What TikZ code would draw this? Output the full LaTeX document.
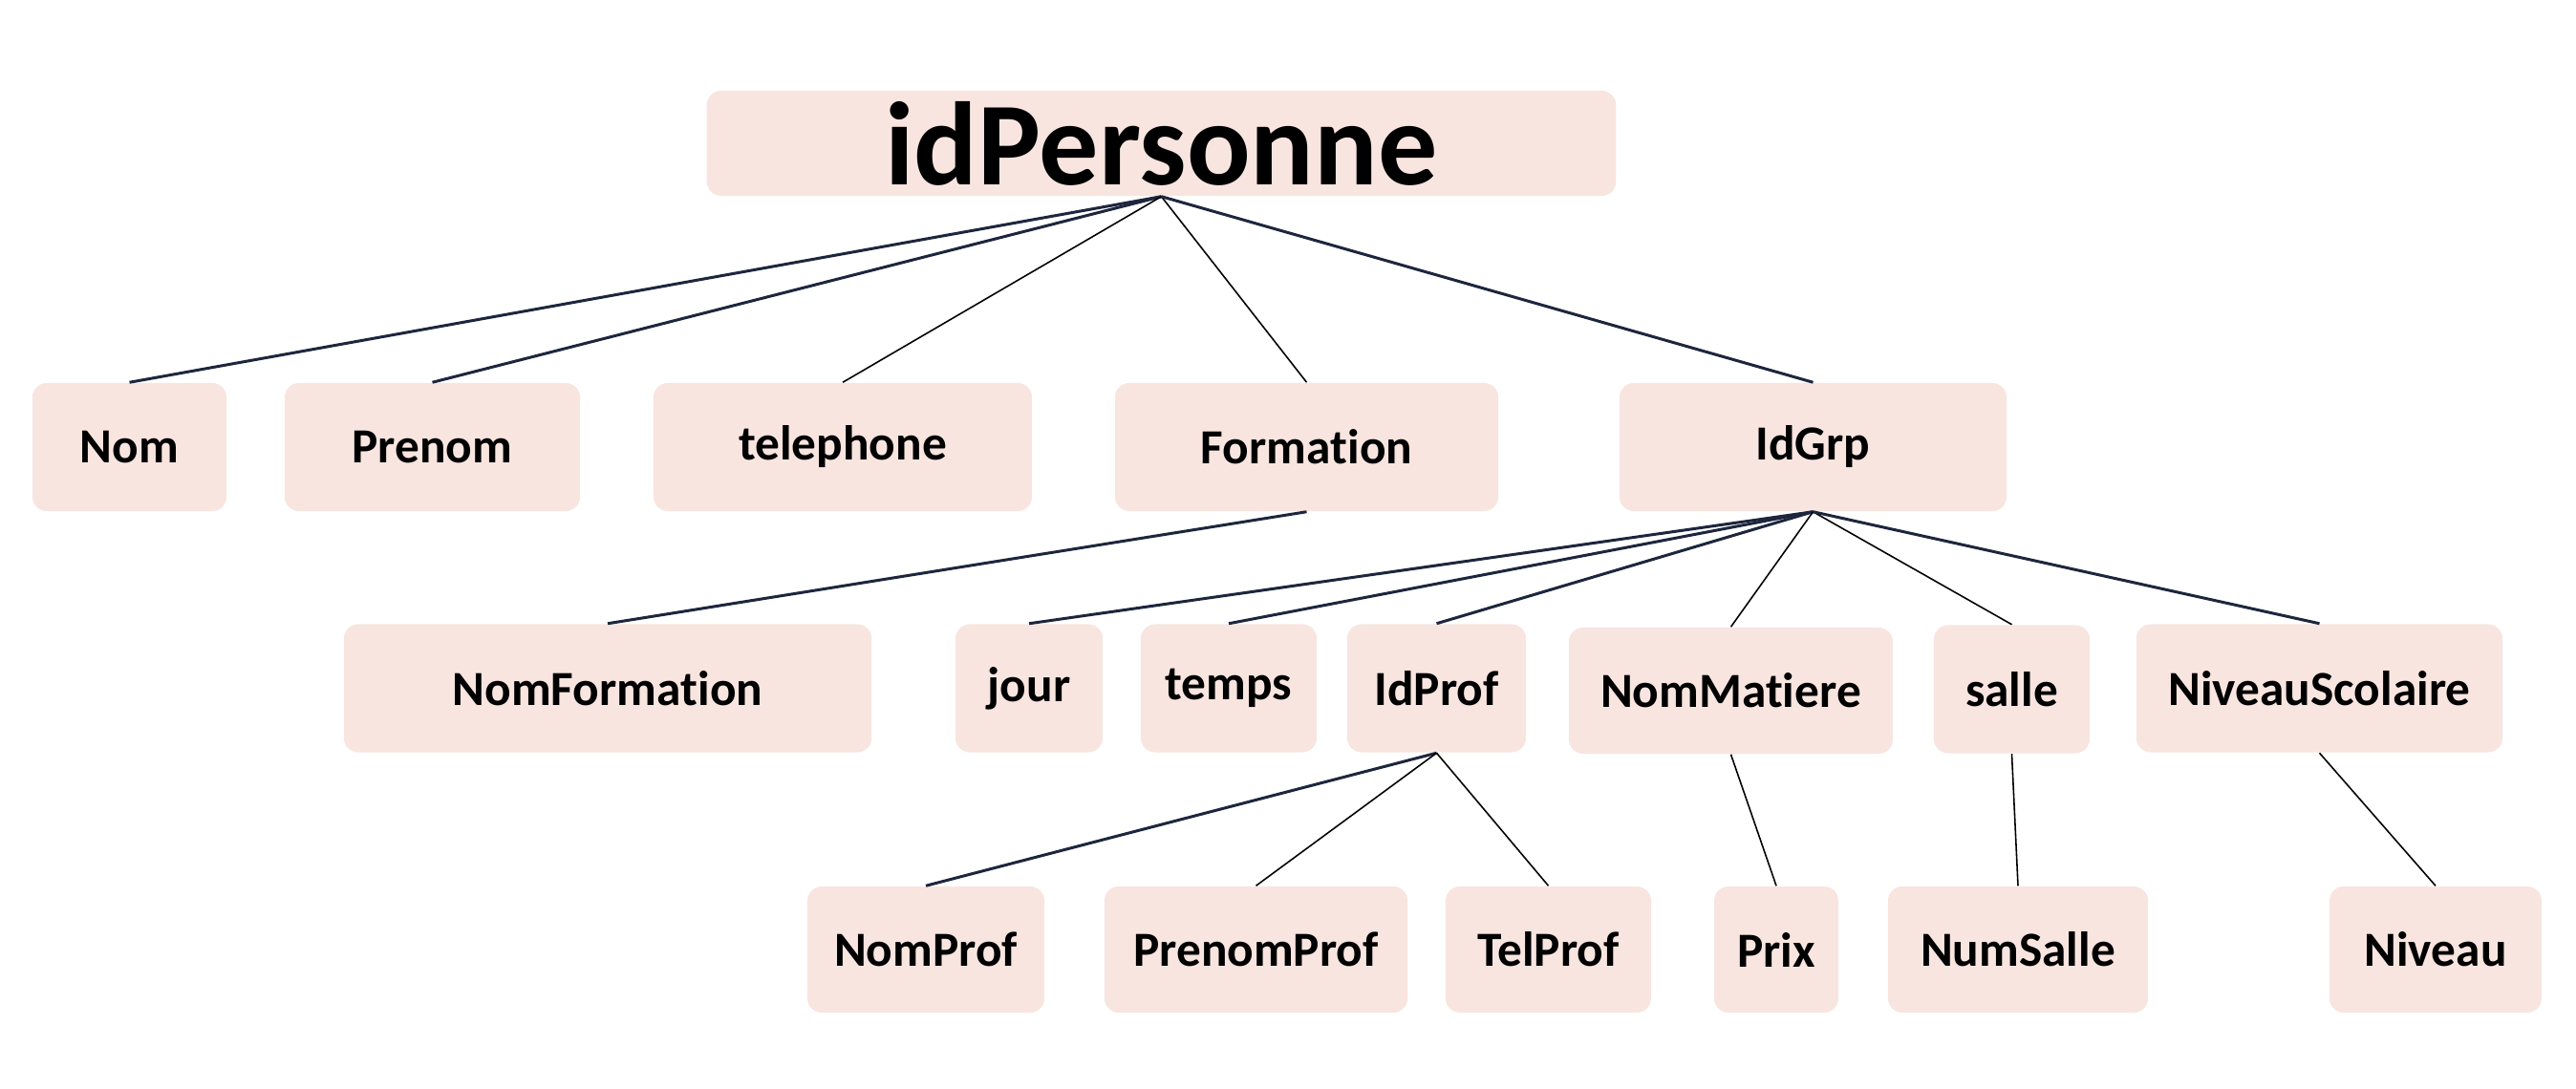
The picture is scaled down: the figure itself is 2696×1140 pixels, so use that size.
\documentclass[tikz,border=0pt]{standalone}
\usepackage{fontspec}
\setmainfont[Ligatures=NoCommon,RawFeature={-liga;-clig;-calt;-dlig}]{Carlito}
\definecolor{boxfill}{RGB}{248,229,224}
\definecolor{linknavy}{RGB}{30,38,62}
\begin{document}
\begin{tikzpicture}[x=0.01cm,y=-0.01cm,
  box/.style={fill=boxfill,rounded corners=0.15cm,inner sep=0pt,minimum height=1.34cm,
    font=\fontsize{14.6pt}{17pt}\selectfont\bfseries},
  rootbox/.style={box,font=\fontsize{35.3pt}{40pt}\selectfont\bfseries},
  thin link/.style={draw=black,line width=0.45pt},
  thick link/.style={draw=linknavy,line width=0.85pt}]
\useasboundingbox (0,0) rectangle (2696,1140);
% root
\node[rootbox,minimum width=9.51cm,minimum height=1.10cm] (root) at (1215.5,150) {idPersonne};
% first level
\node[box,minimum width=2.03cm] (nom) at (135.5,468) {Nom};
\node[box,minimum width=3.09cm] (prenom) at (452.5,468) {Prenom};
\node[box,minimum width=3.96cm] (tel) at (882,468) {telephone};
\node[box,minimum width=4.01cm] (form) at (1367.5,468) {Forma\kern0pt tion};
\node[box,minimum width=4.05cm] (grp) at (1897.5,468) {IdGrp};
% second level
\node[box,minimum width=5.52cm] (nomform) at (636,720.5) {NomForma\kern0pt tion};
\node[box,minimum width=1.54cm] (jour) at (1077,720.5) {jour};
\node[box,minimum width=1.84cm] (temps) at (1286,720.5) {temps};
\node[box,minimum width=1.87cm] (idprof) at (1503.5,720.5) {IdProf};
\node[box,minimum width=3.39cm,minimum height=1.32cm] (matiere) at (1811.5,723) {NomMatiere};
\node[box,minimum width=1.63cm] (salle) at (2105.5,721.5) {salle};
\node[box,minimum width=3.83cm] (niv) at (2427.5,720.5) {NiveauScolaire};
% third level
\node[box,minimum width=2.48cm,minimum height=1.32cm] (nomprof) at (969,994) {NomProf};
\node[box,minimum width=3.17cm,minimum height=1.32cm] (prenomprof) at (1314.5,994) {PrenomProf};
\node[box,minimum width=2.15cm,minimum height=1.32cm] (telprof) at (1620.5,994) {TelProf};
\node[box,minimum width=1.30cm,minimum height=1.32cm] (prix) at (1859,994) {Prix};
\node[box,minimum width=2.72cm,minimum height=1.32cm] (numsalle) at (2112,994) {NumSalle};
\node[box,minimum width=2.22cm,minimum height=1.32cm] (niveau) at (2549,994) {Niveau};
% links
\draw[thick link] (root.south) -- (nom.north);
\draw[thick link] (root.south) -- (prenom.north);
\draw[thin link] (root.south) -- (tel.north);
\draw[thin link] (root.south) -- (form.north);
\draw[thick link] (root.south) -- (grp.north);
\draw[thick link] (form.south) -- (nomform.north);
\draw[thick link] (grp.south) -- (jour.north);
\draw[thick link] (grp.south) -- (temps.north);
\draw[thick link] (grp.south) -- (idprof.north);
\draw[thin link] (grp.south) -- (matiere.north);
\draw[thin link] (grp.south) -- (salle.north);
\draw[thick link] (grp.south) -- (niv.north);
\draw[thick link] (idprof.south) -- (nomprof.north);
\draw[thin link] (idprof.south) -- (prenomprof.north);
\draw[thin link] (idprof.south) -- (telprof.north);
\draw[thin link] (matiere.south) -- (prix.north);
\draw[thin link] (salle.south) -- (numsalle.north);
\draw[thin link] (niv.south) -- (niveau.north);
\end{tikzpicture}
\end{document}
